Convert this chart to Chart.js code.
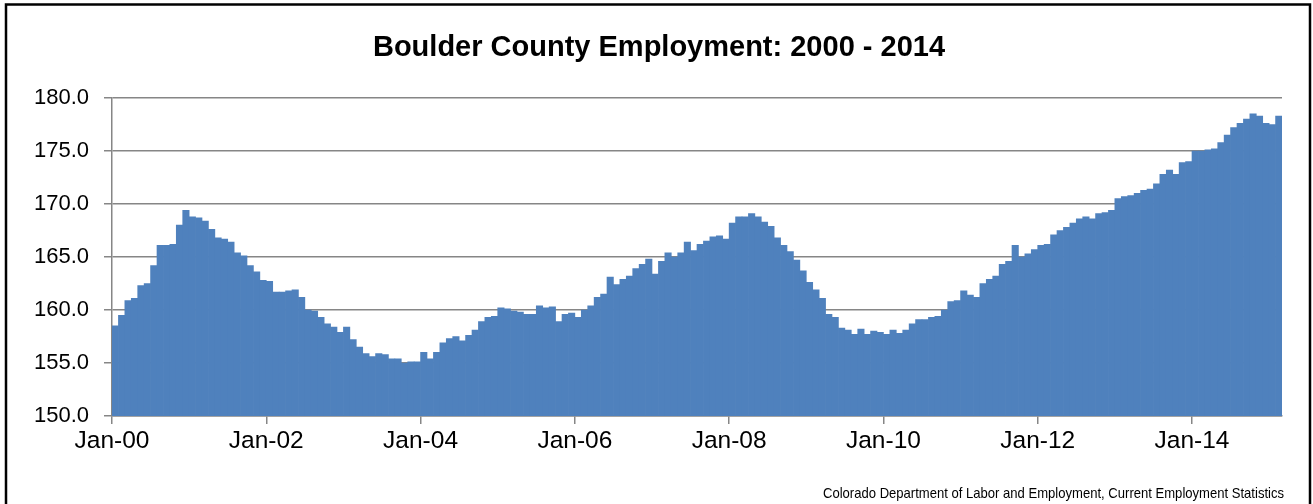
<!DOCTYPE html>
<html>
<head>
<meta charset="utf-8">
<script src="https://cdn.jsdelivr.net/npm/chart.js@4.4.1/dist/chart.umd.min.js"></script>
<style>
  html, body { margin: 0; padding: 0; background: #ffffff; }
  #wrap { position: relative; width: 1313px; height: 504px; overflow: hidden; }
  canvas { display: block; }
</style>
</head>
<body>
<div id="wrap"><canvas id="c" width="1313" height="504"></canvas></div>
<script>
// ---- Data (thousands of jobs, monthly, Jan 2000 - Feb 2015) ----
const emp2000 = [158.5,159.5,160.9,161.1,162.3,162.5,164.2,166.1,166.1,166.2,168.0,169.4];
const emp2001 = [168.8,168.7,168.4,167.6,166.8,166.7,166.4,165.4,165.1,164.2,163.6,162.8];
const emp2002 = [162.7,161.7,161.7,161.8,161.9,161.2,160.0,159.9,159.3,158.7,158.4,157.9];
const emp2003 = [158.4,157.2,156.5,155.9,155.6,155.9,155.8,155.4,155.4,155.0,155.1,155.1];
const emp2004 = [156.0,155.4,156.0,156.9,157.3,157.5,157.1,157.6,158.1,158.9,159.3,159.4];
const emp2005 = [160.2,160.1,159.9,159.8,159.6,159.6,160.4,160.2,160.3,158.9,159.6,159.7];
const emp2006 = [159.3,160.0,160.4,161.2,161.5,163.1,162.4,162.9,163.2,163.9,164.3,164.8];
const emp2007 = [163.4,164.6,165.4,165.0,165.4,166.4,165.6,166.2,166.5,166.9,167.0,166.7];
const emp2008 = [168.2,168.8,168.8,169.1,168.8,168.3,167.9,166.8,166.1,165.5,164.7,163.7];
const emp2009 = [162.6,161.9,161.1,159.6,159.3,158.3,158.1,157.7,158.2,157.7,158.0,157.9];
const emp2010 = [157.7,158.1,157.8,158.1,158.7,159.1,159.1,159.3,159.4,160.0,160.8,160.9];
const emp2011 = [161.8,161.4,161.2,162.5,162.9,163.2,164.3,164.6,166.1,165.0,165.3,165.7];
const emp2012 = [166.1,166.2,167.1,167.5,167.8,168.2,168.6,168.8,168.6,169.1,169.2,169.4];
const emp2013 = [170.5,170.7,170.8,171.0,171.3,171.4,171.9,172.8,173.2,172.8,173.9,174.0];
const emp2014 = [175.0,175.0,175.1,175.2,175.8,176.5,177.2,177.6,178.0,178.5,178.3,177.6];
const emp2015 = [177.5,178.3];

const tickLabels = ['Jan-00','Jan-02','Jan-04','Jan-06','Jan-08','Jan-10','Jan-12','Jan-14'];
const monthNames = ['Jan','Feb','Mar','Apr','May','Jun','Jul','Aug','Sep','Oct','Nov','Dec'];
const titleText = 'Boulder County Employment: 2000 - 2014';
const sourceText = 'Colorado Department of Labor and Employment, Current Employment Statistics';

const values = [].concat(emp2000, emp2001, emp2002, emp2003, emp2004, emp2005, emp2006,
  emp2007, emp2008, emp2009, emp2010, emp2011, emp2012, emp2013, emp2014, emp2015);
const categories = values.map((v, i) =>
  monthNames[i % 12] + '-' + String(Math.floor(i / 12)).padStart(2, '0'));
const tickPositions = tickLabels.map((t, i) => i * 24);

const FONT = '"Liberation Sans", Arial, sans-serif';
const GRID = '#868686';

const decor = {
  id: 'decor',
  afterDraw(chart) {
    const ctx = chart.ctx;
    ctx.save();
    ctx.fillStyle = '#000';
    ctx.textAlign = 'center';
    ctx.textBaseline = 'middle';
    ctx.font = 'bold 29px ' + FONT;
    ctx.fillText(titleText, 659, 48);
    // source line, condensed slightly to match the original's proportions
    ctx.font = '15px ' + FONT;
    const w = ctx.measureText(sourceText).width;
    const targetW = 461;
    const sx = Math.min(1, targetW / w);
    ctx.save();
    ctx.translate(1284, 494);
    ctx.scale(sx, 1);
    ctx.textAlign = 'right';
    ctx.fillText(sourceText, 0, 0);
    ctx.restore();
    ctx.strokeStyle = '#000';
    ctx.lineWidth = 2.5;
    ctx.strokeRect(6, 4.5, 1304, 540);
    ctx.restore();
  }
};

new Chart(document.getElementById('c'), {
  type: 'bar',
  data: {
    labels: categories,
    datasets: [{
      data: values,
      backgroundColor: '#4F81BD',
      borderWidth: 0,
      barPercentage: 1,
      categoryPercentage: 1,
      xAxisID: 'x',
      yAxisID: 'y'
    }]
  },
  options: {
    responsive: false,
    animation: false,
    events: [],
    layout: { padding: { left: 0, right: 31, top: 98, bottom: 0 } },
    plugins: { legend: { display: false }, title: { display: false }, tooltip: { enabled: false } },
    scales: {
      x: { type: 'category', display: false, offset: true },
      xt: {
        type: 'linear', position: 'bottom', min: 0, max: values.length,
        offset: false,
        afterBuildTicks(scale) { scale.ticks = tickPositions.map(v => ({ value: v })); },
        afterFit(scale) { scale.height = 88; },
        ticks: {
          autoSkip: false, maxRotation: 0, padding: 3,
          color: '#000', font: { family: FONT, size: 24.5 },
          callback(v, i) { return tickLabels[i]; }
        },
        grid: { offset: false, drawOnChartArea: false, drawTicks: true, tickLength: 8, color: GRID, lineWidth: 1.5 },
        border: { display: true, color: GRID, width: 1.5 }
      },
      y: {
        min: 150, max: 180,
        afterFit(scale) { scale.width = 112; },
        ticks: {
          stepSize: 5, padding: 15, color: '#000',
          font: { family: FONT, size: 22 },
          callback(v) { return Number(v).toFixed(1); }
        },
        grid: { color: GRID, lineWidth: 1.5, tickLength: 8 },
        border: { display: true, color: GRID, width: 1.5 }
      }
    }
  },
  plugins: [decor]
});
</script>
</body>
</html>
